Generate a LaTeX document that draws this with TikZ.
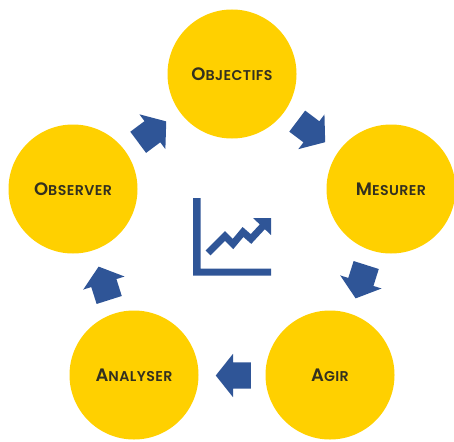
\documentclass[tikz,border=0pt]{standalone}
\usepackage{fontspec}
\setmainfont{Poppins}[UprightFont=* SemiBold,LetterSpace=3]
\usetikzlibrary{shapes.arrows}
\definecolor{disc}{HTML}{FFD000}
\definecolor{flow}{HTML}{2F5597}
\definecolor{ink}{HTML}{33301F}
\newcommand{\capsmall}[2]{{\fontsize{18}{20}\selectfont #1}{\fontsize{14.2}{16}\selectfont #2}}
\newcommand{\shaft}{\rule{0pt}{26pt}}
\tikzset{
  disc/.style={circle,fill=disc,draw=none,minimum size=129pt,inner sep=0pt,text=ink},
  flowarrow/.style={single arrow,fill=flow,draw=none,inner sep=0pt,minimum height=35pt,minimum width=43pt,
    single arrow head extend=8.5pt,single arrow tip angle=103,single arrow head indent=0pt},
  chartline/.style={draw=flow,line width=7pt,line join=miter}
}
\begin{document}
\begin{tikzpicture}[x=1pt,y=-1pt]
\useasboundingbox (0,0) rectangle (454,441);
\node[disc] (obj) at (232,74) {\capsmall{O}{BJECTIFS}};
\node[disc] (mes) at (391,189) {\capsmall{M}{ESURER}};
\node[disc] (agi) at (330,375) {\capsmall{A}{GIR}};
\node[disc] (ana) at (134,375) {\capsmall{A}{NALYSER}};
\node[disc] (obs) at (73,189) {\capsmall{O}{BSERVER}};
\node[flowarrow,rotate=-37] (a1) at (307,128.5) {\shaft};
\node[flowarrow,rotate=-107.6] (a2) at (362.5,276.7) {\shaft};
\node[flowarrow,rotate=180] (a3) at (238.5,375.5) {\shaft};
\node[flowarrow,rotate=107.6] (a4) at (105.5,288.3) {\shaft};
\node[flowarrow,rotate=36.7] (a5) at (148,135) {\shaft};
% chart icon
\fill[flow] (193,198) -- (200.5,198) -- (200.5,268.5) -- (271,268.5) -- (271,275.5) -- (193,275.5) -- cycle;
\draw[chartline] (208,253) -- (225,236) -- (233,244) -- (243,232) -- (251,239) -- (264,225);
\fill[flow] (253,218) -- (271,218) -- (271,235) -- cycle;
\end{tikzpicture}
\end{document}
